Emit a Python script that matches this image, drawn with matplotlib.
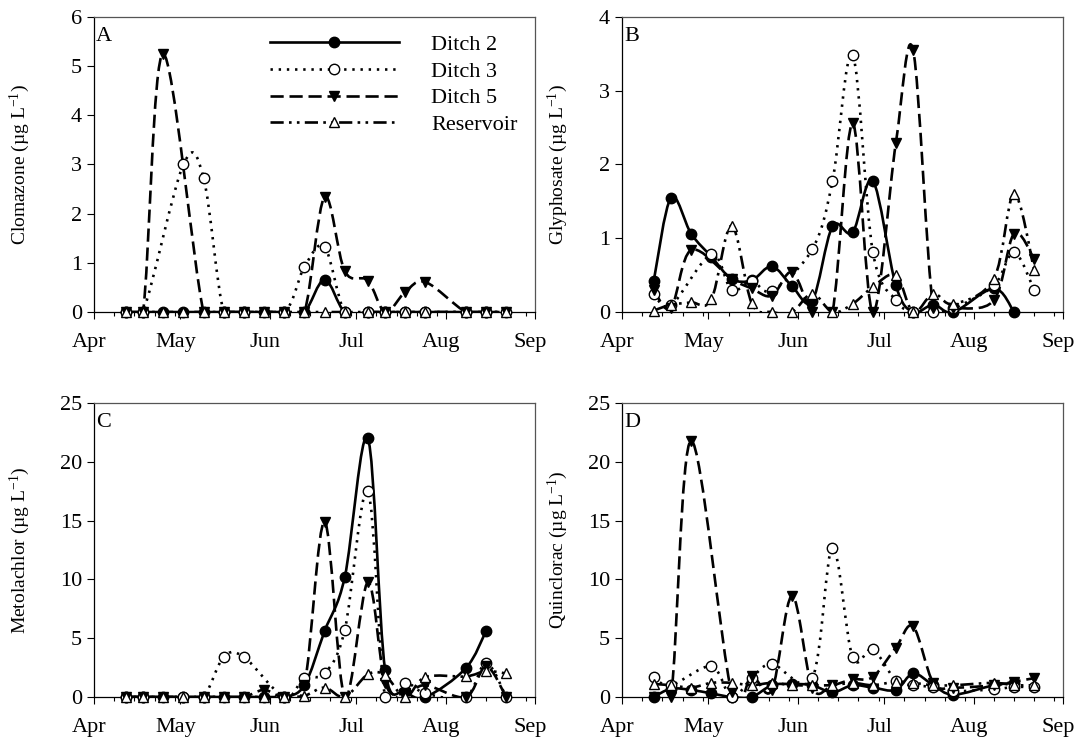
import numpy as np
import matplotlib
matplotlib.use('Agg')
import matplotlib.pyplot as plt
import matplotlib.dates as mdates
import matplotlib.transforms as mtransforms
from matplotlib.path import Path
from matplotlib.patches import PathPatch
from matplotlib.lines import Line2D

plt.rcParams['font.family'] = ['Liberation Serif', 'DejaVu Serif']
plt.rcParams['mathtext.fontset'] = 'custom'
plt.rcParams['mathtext.rm'] = 'Liberation Serif'
plt.rcParams['mathtext.default'] = 'rm'
plt.rcParams['font.size'] = 16

nan = np.nan

# sampling dates (weekly)
dates = ['2013-04-12', '2013-04-18', '2013-04-25', '2013-05-02', '2013-05-09',
         '2013-05-16', '2013-05-23', '2013-05-30', '2013-06-06', '2013-06-13',
         '2013-06-20', '2013-06-27', '2013-07-05', '2013-07-11', '2013-07-18',
         '2013-07-25', '2013-08-08', '2013-08-15', '2013-08-22']

# A - clomazone
clom_d2 = [0, 0, 0, 0, 0, 0, 0, 0, 0, 0, 0.66, 0, 0, 0, 0, 0, 0, 0, nan]
clom_d3 = [0, 0, nan, 3.0, 2.73, 0, 0, nan, 0, 0.92, 1.32, 0, 0, 0, 0, 0, 0, 0, 0]
clom_d5 = [0, 0, 5.25, nan, 0, 0, 0, 0, 0, 0, 2.34, 0.83, 0.64, 0, 0.41, 0.61, 0, 0, 0]
clom_res = [0, 0, 0, 0, 0, 0, 0, 0, 0, 0, 0, 0, 0, 0, 0, 0, 0, 0, 0]

# B - glyphosate
gly_d2 = [0.42, 1.55, 1.06, 0.75, 0.45, 0.43, 0.62, 0.35, 0.15, 1.16, 1.08, 1.78, 0.36, 0.0, 0.1, 0.0, 0.32, 0.0, nan]
gly_d3 = [0.25, 0.09, nan, 0.78, 0.30, 0.42, 0.29, nan, 0.85, 1.77, 3.49, 0.82, 0.16, 0.0, 0.0, 0.05, 0.36, 0.81, 0.30]
gly_d5 = [0.3, 0.05, 0.84, nan, 0.45, 0.32, 0.22, 0.54, 0.0, 0.0, 2.56, 0.0, 2.29, 3.55, 0.05, 0.05, 0.16, 1.06, 0.72]
gly_res = [0.02, 0.1, 0.13, 0.17, 1.17, 0.12, 0.0, 0.0, 0.25, 0.0, 0.11, 0.34, 0.5, 0.0, 0.25, 0.11, 0.45, 1.6, 0.57]

# C - metolachlor
meto_d2 = [0, 0, 0, 0, 0, 0, 0, 0, 0, 1.0, 5.6, 10.2, 22.0, 2.3, 0.5, 0.0, 2.45, 5.6, nan]
meto_d3 = [0, 0, nan, 0, 0, 3.4, 3.4, nan, 0, 1.65, 2.0, 5.7, 17.5, 0.0, 1.2, 0.3, 0.0, 2.9, 0.0]
meto_d5 = [0, 0, 0, nan, 0, 0, 0, 0.6, 0, 1.0, 14.9, 0.0, 9.75, 1.2, 0.3, 1.0, 0.0, 2.6, 0.0]
meto_res = [0, 0, 0, 0, 0, 0, 0, 0, 0, 0.1, 0.8, 0.0, 1.93, 1.85, 0.0, 1.7, 1.75, 2.2, 2.0]

# D - quinclorac
quin_d2 = [0, 0.7, 0.6, 0.3, 0, 0, 1.0, 1.1, 1.0, 0.4, 1.0, 0.8, 0.6, 2.0, 1.0, 0.2, 1.0, 1.2, nan]
quin_d3 = [1.7, 1.0, nan, 2.6, 0.0, 1.6, 2.8, nan, 1.6, 12.7, 3.4, 4.05, 1.4, 1.0, 0.85, 0.5, 0.65, 0.85, 0.85]
quin_d5 = [0, 0, 21.8, nan, 0.4, 1.8, 0.6, 8.6, 0.8, 1.0, 1.5, 1.7, 4.2, 6.0, 1.2, 0.8, 1.0, 1.3, 1.6]
quin_res = [1.1, 1.0, 0.8, 1.2, 1.2, 1.0, 1.2, 1.0, 1.0, 1.0, 1.2, 1.0, 1.3, 1.2, 1.0, 1.0, 1.2, 1.0, 1.0]

series_names = ['Ditch 2', 'Ditch 3', 'Ditch 5', 'Reservoir']
styles = [
    dict(ls='-', marker='o', mfc='black'),
    dict(ls=(0, (0.9, 2.2)), marker='o', mfc='white'),
    dict(ls=(0, (5, 2.2)), marker='v', mfc='black'),
    dict(ls=(0, (5, 2, 1, 2, 1, 2)), marker='^', mfc='white'),
]

panels = [
    ('A', 'Clomazone', [clom_d2, clom_d3, clom_d5, clom_res], 6, 1),
    ('B', 'Glyphosate', [gly_d2, gly_d3, gly_d5, gly_res], 4, 1),
    ('C', 'Metolachlor', [meto_d2, meto_d3, meto_d5, meto_res], 25, 5),
    ('D', 'Quinclorac', [quin_d2, quin_d3, quin_d5, quin_res], 25, 5),
]

xnum = mdates.date2num(np.array(dates, dtype='datetime64[D]'))


def spline_path(x, y):
    # smooth curve through the points (bezier segments)
    ok = ~np.isnan(y)
    pts = np.column_stack([x[ok], y[ok]])
    verts = [pts[0]]
    codes = [Path.MOVETO]
    n = len(pts)
    for i in range(n - 1):
        p0 = pts[i - 1] if i > 0 else pts[i]
        p1 = pts[i]
        p2 = pts[i + 1]
        p3 = pts[i + 2] if i + 2 < n else pts[i + 1]
        verts += [p1 + (p2 - p0) / 6, p2 - (p3 - p1) / 6, p2]
        codes += [Path.CURVE4] * 3
    return Path(verts, codes)


fig = plt.figure(figsize=(10.78, 7.44), dpi=100)
boxes = [
    [0.0872, 0.5806, 0.4091, 0.3966],
    [0.5770, 0.5806, 0.4091, 0.3966],
    [0.0872, 0.0632, 0.4091, 0.3951],
    [0.5770, 0.0632, 0.4091, 0.3951],
]
xmin = mdates.date2num(np.datetime64('2013-04-01'))
xmax = mdates.date2num(np.datetime64('2013-09-01'))
shift = mtransforms.ScaledTranslation(-5 / 100, 0, fig.dpi_scale_trans)

for k, (letter, name, data, ytop, ystep) in enumerate(panels):
    ax = fig.add_axes(boxes[k])
    for vals, st in zip(data, styles):
        y = np.array(vals, dtype=float)
        patch = PathPatch(spline_path(xnum, y), fill=False, edgecolor='black',
                          linewidth=1.9, linestyle=st['ls'], zorder=2)
        ax.add_patch(patch)
        ax.plot(xnum, y, linestyle='none', marker=st['marker'], markersize=7.5,
                markerfacecolor=st['mfc'], markeredgecolor='black',
                markeredgewidth=1.0, zorder=3, clip_on=False)
    ax.set_xlim(xmin, xmax)
    ax.set_ylim(0, ytop)
    ax.set_yticks(np.arange(0, ytop + 0.01, ystep))
    ax.xaxis.set_major_locator(mdates.MonthLocator())
    ax.xaxis.set_major_formatter(mdates.DateFormatter('%b'))
    ax.xaxis.set_minor_locator(mdates.DayLocator(bymonthday=[8, 15, 22, 29]))
    ax.tick_params(axis='both', which='major', direction='out', length=5,
                   width=0.8, labelsize=16, top=False, right=False)
    ax.tick_params(axis='x', which='minor', direction='out', length=3,
                   width=0.8, top=False)
    ax.tick_params(axis='x', pad=10)
    for lab in ax.get_xticklabels():
        lab.set_transform(lab.get_transform() + shift)
    for s in ['top', 'right']:
        ax.spines[s].set_color('#555555')
    for s in ax.spines.values():
        s.set_linewidth(0.9)
    ax.set_ylabel(name + r' (µg L$^{-1}$)', fontsize=14)
    ax.yaxis.set_label_coords(-0.14 if k % 2 == 0 else -0.118, 0.5)
    ax.text(0.005, 0.965, letter, transform=ax.transAxes, ha='left', va='top',
            fontsize=16)

    if letter == 'A':
        handles = [Line2D([], [], color='black', lw=1.9, ls=st['ls'],
                          marker=st['marker'], markersize=7.5,
                          markerfacecolor=st['mfc'], markeredgecolor='black',
                          markeredgewidth=1.0) for st in styles]
        ax.legend(handles, series_names, loc='upper left',
                  bbox_to_anchor=(0.399, 0.94), frameon=False, fontsize=16,
                  borderpad=0, borderaxespad=0,
                  handlelength=5.8, handletextpad=1.45, labelspacing=0.27)

fig.savefig('out.png', dpi=100)
